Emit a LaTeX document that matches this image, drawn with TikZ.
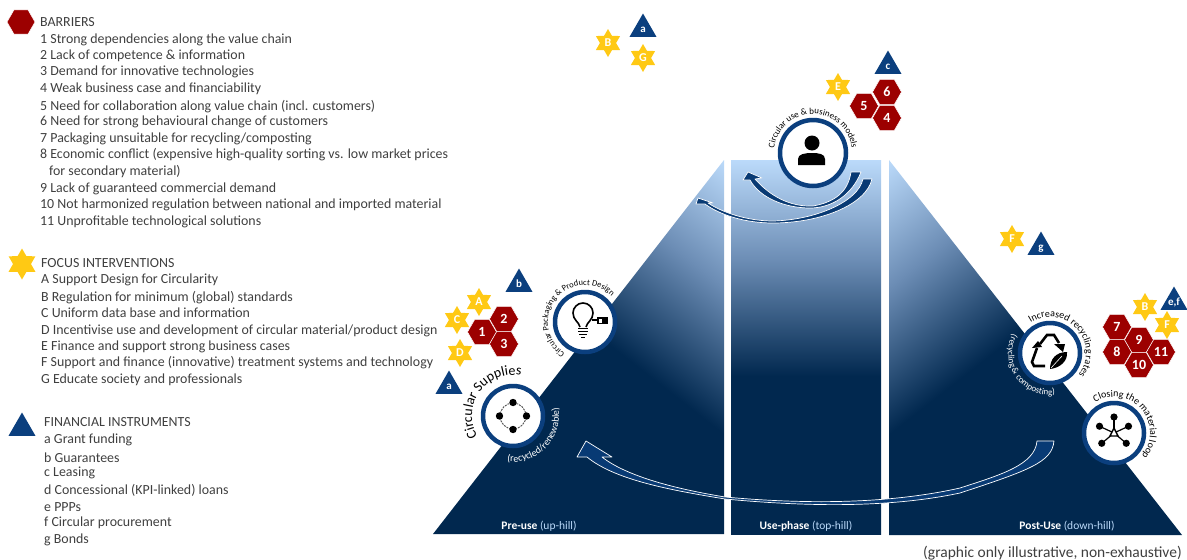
\documentclass[tikz,border=0pt]{standalone}
\usepackage{fontspec}
\setmainfont{Carlito}
\usetikzlibrary{shapes.geometric,decorations.text}
\definecolor{navy}{HTML}{01284F}
\definecolor{hexred}{HTML}{9C0000}
\definecolor{staryel}{HTML}{FFC914}
\definecolor{tribl}{HTML}{0B3F7E}
\definecolor{ringbl}{HTML}{0B3F7E}
\definecolor{lightb}{HTML}{BBDAFA}
\definecolor{midb}{HTML}{6C8DB5}
\definecolor{arrowbl}{HTML}{083A74}
\definecolor{txt}{HTML}{3F3F3F}
\pgfdeclareverticalshading{hill}{100bp}{color(0bp)=(navy);color(44.6bp)=(navy);color(47.5bp)=(midb);color(50bp)=(lightb);color(100bp)=(lightb)}
\newcommand\mk[1]{\makebox[0pt]{\raisebox{-.33em}[0pt][0pt]{#1}}}
\tikzset{
 x=1pt,y=-1pt,
 hexa/.style={regular polygon,regular polygon sides=6,fill=hexred,draw=white,line width=.5pt,inner sep=0pt,minimum size=29pt,text=white,font=\fontsize{14}{14}\selectfont\bfseries},
 stara/.style={star,star points=6,star point ratio=1.73,fill=staryel,inner sep=0pt,minimum size=28pt,text=white,font=\fontsize{12}{12}\selectfont\bfseries},
 tria/.style={regular polygon,regular polygon sides=3,fill=tribl,inner sep=0pt,minimum size=31pt,text=white,font=\fontsize{11}{11}\selectfont\bfseries},
 ring/.style={circle,fill=white,draw=ringbl,line width=4.5pt,inner sep=0pt},
 legend/.style={anchor=west,inner sep=0pt,text=txt,font=\fontsize{13.9}{14}\selectfont},
 phase/.style={inner sep=0pt,font=\fontsize{11.5}{12}\selectfont},
 flow/.style={fill=arrowbl,draw=white,line width=.7pt,line join=round},
 iconline/.style={draw=black,line width=1.6pt,fill=none},
}
\newcommand\legline[3]{\node[legend] (#1) at #2 {#3};}
\newcommand\hillpiece[4]{%
 \begin{scope}
 \clip #1;
 \shade[shading=hill,shading angle=#2] (#3-1000,#4-1000) rectangle (#3+1000,#4+1000);
 \end{scope}}
\begin{document}
\begin{tikzpicture}
\useasboundingbox (0,0) rectangle (1187,560);
% hill
\hillpiece{(433,534) -- (724,160) -- (724,534) -- cycle}{-38}{724}{160}
\hillpiece{(731,160) rectangle (881,534)}{0}{806}{160}
\hillpiece{(889,160) -- (1182,535) -- (889,535) -- cycle}{38}{889}{160}
% legend
\node[hexa,minimum size=28pt] (kb) at (21,22) {};
\node[stara,minimum size=31pt] (kf) at (22,264) {};
\node[tria,minimum size=31pt] (ki) at (22,428) {};
\legline{b0}{(40,22)}{BARRIERS}
\legline{b1}{(40,40)}{1 Strong dependencies along the value chain}
\legline{b2}{(40,56)}{2 Lack of competence \& information}
\legline{b3}{(40,72)}{3 Demand for innovative technologies}
\legline{b4}{(40,89)}{4 Weak business case and financiability}
\legline{b5}{(40,107)}{5 Need for collaboration along value chain (incl. customers)}
\legline{b6}{(40,122)}{6 Need for strong behavioural change of customers}
\legline{b7}{(40,139)}{7 Packaging unsuitable for recycling/composting}
\legline{b8}{(40,155)}{8 Economic conflict (expensive high-quality sorting vs. low market prices}
\legline{b8b}{(49,172)}{for secondary material)}
\legline{b9}{(40,189)}{9 Lack of guaranteed commercial demand}
\legline{b10}{(40,205)}{10 Not harmonized regulation between national and imported material}
\legline{b11}{(40,222)}{11 Unprofitable technological solutions}
\legline{f0}{(41,263)}{FOCUS INTERVENTIONS}
\legline{fa}{(41,280)}{A Support Design for Circularity}
\legline{fb}{(41,298)}{B Regulation for minimum (global) standards}
\legline{fc}{(41,313)}{C Uniform data base and information}
\legline{fd}{(41,331)}{D Incentivise use and development of circular material/product design}
\legline{fe}{(41,347)}{E Finance and support strong business cases}
\legline{ff}{(41,363)}{F Support and finance (innovative) treatment systems and technology}
\legline{fg}{(41,380)}{G Educate society and professionals}
\legline{i0}{(44,422)}{FINANCIAL INSTRUMENTS}
\legline{ia}{(44,440)}{a Grant funding}
\legline{ib}{(44,458)}{b Guarantees}
\legline{ic}{(44,473)}{c Leasing}
\legline{id}{(44,490)}{d Concessional (KPI-linked) loans}
\legline{ie}{(44,507)}{e PPPs}
\legline{if}{(44,523)}{f Circular procurement}
\legline{ig}{(44,540)}{g Bonds}
% phase labels
\node[phase] (p1) at (539,526) {\textcolor{white}{\textbf{Pre-use}} \textcolor{lightb}{(up-hill)}};
\node[phase] (p2) at (806,526) {\textcolor{white}{\textbf{Use-phase}} \textcolor{lightb}{(top-hill)}};
\node[phase] (p3) at (1067,526) {\textcolor{white}{\textbf{Post-Use}} \textcolor{lightb}{(down-hill)}};
\node[legend,anchor=east,font=\fontsize{15.5}{16}\selectfont] (note) at (1182,553) {(graphic only illustrative, non-exhaustive)};
% flows
\path[flow] (1037,441) -- (1054,441) .. controls (1052,462) and (1030,470) .. (960,493) .. controls (880,510) and (790,505) .. (725,499)
 .. controls (670,490) and (615,480) .. (587,457) -- (577,457) -- (586,441) -- (612,457) -- (602,457) .. controls (625,475) and (670,488) .. (725,497)
 .. controls (790,503) and (880,506) .. (960,488) .. controls (1000,475) and (1035,465) .. (1037,441) -- cycle;
\path[flow] (851,172) -- (861,172) .. controls (852,195) and (832,208) .. (810,208) .. controls (785,208) and (760,198) .. (750,180) -- (743,180) -- (748,172) -- (762,178) -- (755,179) .. controls (770,196) and (790,207) .. (813,206) .. controls (835,202) and (848,192) .. (851,172) -- cycle;
\path[flow] (863,179) -- (872,179) .. controls (866,205) and (820,223) .. (773,223) .. controls (745,223) and (720,215) .. (705,204) -- (696,204) -- (698,198) -- (713,203) -- (708,203) .. controls (725,214) and (750,221) .. (773,221) .. controls (815,220) and (858,202) .. (863,179) -- cycle;
% rings
\node[ring,minimum size=60pt] (c1) at (513,416) {};
\node[ring,minimum size=60pt] (c2) at (585,322) {};
\node[ring,minimum size=66pt] (c3) at (813,153) {};
\node[ring,minimum size=60pt] (c4) at (1050,353) {};
\node[ring,minimum size=60pt] (c5) at (1114,433) {};
% ring icons
\begin{scope}[shift={(c1)},x=1pt,y=1pt]
 \draw[black!70,line width=.9pt,dash pattern=on 2pt off 1pt] (0,0) circle (13);
 \foreach \a in {0,90,180,270}{\fill[black] (\a:13.5) circle (3.7);}
\end{scope}
\begin{scope}[shift={(c2)},x=1pt,y=1pt]
 \draw[iconline] (-5,-5) .. controls (-6,0) and (-12,2) .. (-12,9) arc[start angle=180,end angle=0,radius=10] .. controls (8,2) and (2,0) .. (1,-5);
 \fill[black] (-7,-7) rectangle (3,-6);
 \fill[black] (-7,-10) rectangle (3,-9);
 \fill[black] (-6,-13) rectangle (2,-12);
 \fill[black] (-4,-16) rectangle (0,-15);
 \draw[black,line width=1.2pt] (7,2) -- (12,2);
 \fill[black] (12,-2) rectangle (23,5);
 \fill[white] (13.5,-.5) rectangle (17,3.5);
\end{scope}
\begin{scope}[shift={(c3)},x=1pt,y=1pt]
 \fill[black] (-1,10) circle (7.5);
 \fill[black] (-15,-12) -- (-15,-6) .. controls (-15,-1) and (-8,0) .. (-1,0) .. controls (6,0) and (12,-1) .. (12,-6) -- (12,-12) -- cycle;
\end{scope}
\begin{scope}[shift={(c4)},x=1pt,y=1pt]
 \draw[black,line width=2.6pt] (-10,9) -- (-3,18) -- (4,18) -- (9,10);
 \fill[black] (4,9) -- (15,9) -- (13,1) -- cycle;
 \draw[black,line width=2.6pt] (-13,5) -- (-18,-9) -- (-16,-13) -- (-5,-13);
 \fill[black] (-18,5) -- (-8,6) -- (-12,12) -- cycle;
 \fill[black] (0,-16) .. controls (0,-6) and (6,1) .. (17,1) .. controls (18,-8) and (10,-15) .. (0,-16) -- cycle;
 \draw[white,line width=.6pt] (1,-15) -- (12,-3);
\end{scope}
\begin{scope}[shift={(c5)},x=1pt,y=1pt]
 \foreach \a in {90,155,25,220,320}{\draw[black,line width=1.2pt] (0,0) -- (\a:16); \fill[black] (\a:16) circle (3.6);}
 \draw[black,line width=1.4pt,fill=white] (-4,-3) -- (4,-3) -- (0,5) -- cycle;
\end{scope}
% curved text
\begin{scope}[shift={(c1)},x=1pt,y=1pt]
 \path[decorate,decoration={text along path,text align=center,text={|\fontsize{14}{14}\selectfont|Circular Supplies}}] (212:41) arc[start angle=212,end angle=77,radius=41];
 \path[decorate,decoration={text along path,text align=center,text={|\fontsize{10}{10}\selectfont\color{white}|(recycled/renewable)}}] (-109:46) arc[start angle=-109,end angle=23,radius=46];
\end{scope}
\begin{scope}[shift={(c2)},x=1pt,y=1pt]
 \path[decorate,decoration={text along path,text align=center,text={|\fontsize{8.5}{8}\selectfont|Circular Packaging {\&} Product Design}}] (237:37) arc[start angle=237,end angle=44,radius=37];
\end{scope}
\begin{scope}[shift={(c3)},x=1pt,y=1pt]
 \path[decorate,decoration={text along path,text align=center,text={|\fontsize{9}{9}\selectfont|Circular use {\&} business models}}] (180:39) arc[start angle=180,end angle=0,radius=39];
\end{scope}
\begin{scope}[shift={(c4)},x=1pt,y=1pt]
 \path[decorate,decoration={text along path,text align=center,text={|\fontsize{10}{10}\selectfont|Increased recycling rates}}] (124:36) arc[start angle=124,end angle=-39,radius=36];
 \path[decorate,decoration={text along path,text align=center,text={|\fontsize{9}{9}\selectfont\color{white}|(recycling {\&} composting)}}] (130:42) arc[start angle=130,end angle=300,radius=42];
\end{scope}
\begin{scope}[shift={(c5)},x=1pt,y=1pt]
 \path[decorate,decoration={text along path,text align=center,text={|\fontsize{10}{10}\selectfont|Closing the material loop}}] (125:36) arc[start angle=125,end angle=-43,radius=36];
\end{scope}
% markers, pre-use
\node[stara] (sa1) at (479,302) {\mk{A}};
\node[stara] (sc1) at (457,320) {\mk{C}};
\node[stara] (sd1) at (460,353) {\mk{D}};
\node[hexa] (h2) at (504,319) {\mk{2}};
\node[hexa] (h1) at (482,332) {\mk{1}};
\node[hexa] (h3) at (504,344) {\mk{3}};
\node[tria] (tb) at (519,284) {\mk{b}};
\node[tria] (ta) at (449,386) {\mk{a}};
% top-left group
\node[stara] (sb2) at (608,43) {\mk{B}};
\node[stara] (sg2) at (643,58) {\mk{G}};
\node[tria] (ta2) at (643,29) {\mk{a}};
% use
\node[stara] (se3) at (838,87) {\mk{E}};
\node[hexa] (h6) at (887,92) {\mk{6}};
\node[hexa] (h5) at (864,106) {\mk{5}};
\node[hexa] (h4) at (887,118) {\mk{4}};
\node[tria] (tc) at (888,66) {\mk{c}};
% post
\node[stara] (sf4) at (1012,239) {\mk{F}};
\node[tria] (tg) at (1041,247) {\mk{g}};
\node[stara] (sb5) at (1145,307) {\mk{B}};
\node[stara] (sf5) at (1167,325) {\mk{F}};
\node[tria] (tef) at (1174,302) {\mk{e,f}};
\node[hexa] (h7) at (1117,327) {\mk{7}};
\node[hexa] (h9) at (1139,340) {\mk{9}};
\node[hexa] (h8) at (1117,352) {\mk{8}};
\node[hexa] (h11) at (1161,352) {\mk{11}};
\node[hexa] (h10) at (1139,365) {\mk{10}};
\end{tikzpicture}
\end{document}
